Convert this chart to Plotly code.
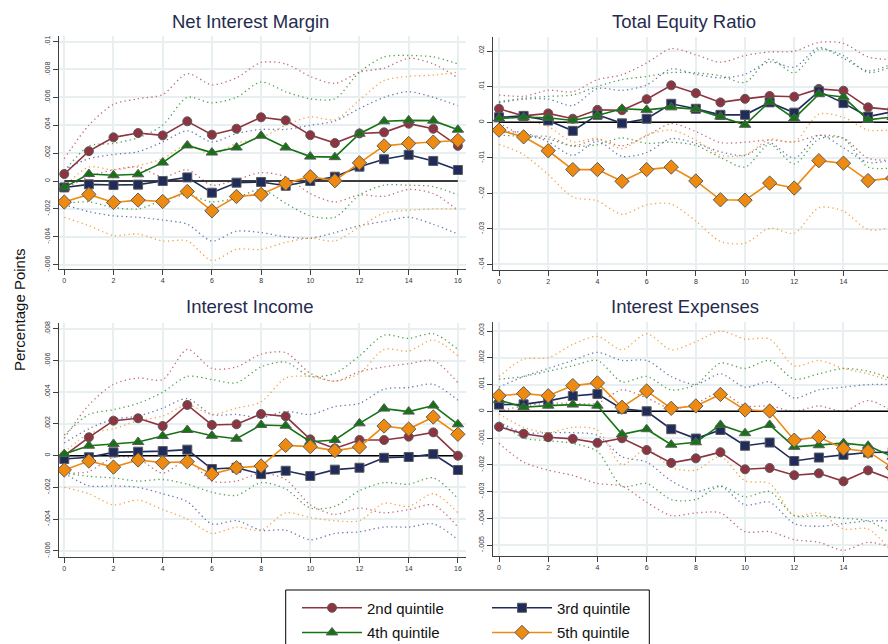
import plotly.graph_objects as go

horizon = list(range(17))
quintile_names = ["2nd quintile", "3rd quintile", "4th quintile", "5th quintile"]
panel_titles = ["Net Interest Margin", "Total Equity Ratio", "Interest Income", "Interest Expenses"]

x_tickvals = [0, 2, 4, 6, 8, 10, 12, 14, 16]
x_ticktext = ["0", "2", "4", "6", "8", "10", "12", "14", "16"]

nim_tickvals = [-0.006, -0.004, -0.002, 0, 0.002, 0.004, 0.006, 0.008, 0.01]
nim_ticktext = ["-.006", "-.004", "-.002", "0", ".002", ".004", ".006", ".008", ".01"]
ter_tickvals = [-0.04, -0.03, -0.02, -0.01, 0, 0.01, 0.02]
ter_ticktext = ["-.04", "-.03", "-.02", "-.01", "0", ".01", ".02"]
inc_tickvals = [-0.006, -0.004, -0.002, 0, 0.002, 0.004, 0.006, 0.008]
inc_ticktext = ["-.006", "-.004", "-.002", "0", ".002", ".004", ".006", ".008"]
exp_tickvals = [-0.005, -0.004, -0.003, -0.002, -0.001, 0, 0.001, 0.002, 0.003]
exp_ticktext = ["-.005", "-.004", "-.003", "-.002", "-.001", "0", ".001", ".002", ".003"]

# ---------------- Net Interest Margin ----------------
nim_q2 = [0.0005, 0.00214, 0.00313, 0.00344, 0.00327, 0.00428, 0.00332, 0.00375, 0.00457, 0.00435, 0.00329, 0.00272, 0.00341, 0.00349, 0.00411, 0.00375, 0.00252]
nim_q2_hi = [0.0016, 0.0040, 0.0055, 0.0059, 0.0062, 0.0077, 0.0069, 0.0074, 0.0085, 0.0084, 0.0075, 0.0070, 0.0078, 0.0081, 0.0088, 0.0084, 0.0074]
nim_q2_lo = [-0.0006, 0.0003, 0.0008, 0.0010, 0.0003, 0.0008, -0.0003, 0.0001, 0.0006, 0.0003, -0.0009, -0.0015, -0.0010, -0.0011, -0.0006, -0.0009, -0.0021]
nim_q3 = [-0.00046, -0.00024, -0.00029, -0.00026, 0.0, 0.00026, -0.00084, -0.00012, -0.00007, -0.00034, 0.0, 0.00031, 0.00103, 0.00156, 0.00188, 0.00144, 0.00079]
nim_q3_hi = [0.0008, 0.0016, 0.0019, 0.0021, 0.0028, 0.0036, 0.0028, 0.0034, 0.0037, 0.0037, 0.0040, 0.0043, 0.0052, 0.0060, 0.0064, 0.0060, 0.0054]
nim_q3_lo = [-0.0017, -0.0022, -0.0025, -0.0026, -0.0028, -0.0031, -0.0043, -0.0036, -0.0037, -0.0040, -0.0041, -0.0037, -0.0032, -0.0029, -0.0026, -0.0031, -0.0038]
nim_q4 = [-0.00046, 0.0005, 0.00041, 0.00048, 0.00132, 0.00255, 0.00204, 0.0024, 0.00325, 0.0024, 0.00175, 0.00171, 0.00339, 0.00428, 0.00435, 0.00433, 0.00368]
nim_q4_hi = [0.0007, 0.0025, 0.0027, 0.0031, 0.0040, 0.0060, 0.0056, 0.0060, 0.0071, 0.0064, 0.0059, 0.0059, 0.0078, 0.0089, 0.0090, 0.0089, 0.0084]
nim_q4_lo = [-0.0016, -0.0015, -0.0019, -0.0020, -0.0014, -0.0010, -0.0015, -0.0012, -0.0006, -0.0016, -0.0025, -0.0026, -0.0010, -0.0003, -0.0003, -0.0004, -0.0010]
nim_q5 = [-0.00151, -0.00096, -0.00154, -0.00137, -0.00147, -0.00075, -0.00214, -0.00111, -0.00096, -0.00017, 0.00031, 0.00002, 0.0013, 0.00252, 0.00269, 0.00279, 0.00291]
nim_q5_hi = [-0.0004, 0.0010, 0.0008, 0.0011, 0.0016, 0.0026, 0.0019, 0.0027, 0.0031, 0.0040, 0.0046, 0.0044, 0.0058, 0.0072, 0.0075, 0.0076, 0.0078]
nim_q5_lo = [-0.0026, -0.0032, -0.0039, -0.0038, -0.0043, -0.0043, -0.0057, -0.0049, -0.0049, -0.0044, -0.0041, -0.0043, -0.0033, -0.0023, -0.0021, -0.0020, -0.0020]

# ---------------- Total Equity Ratio ----------------
ter_q2 = [0.0038, 0.0018, 0.0025, 0.0010, 0.0035, 0.0034, 0.0065, 0.0104, 0.0082, 0.0056, 0.0066, 0.0074, 0.0072, 0.0094, 0.0089, 0.0042, 0.0035]
ter_q2_hi = [0.0077, 0.0073, 0.0090, 0.0086, 0.0120, 0.0134, 0.0167, 0.0207, 0.0190, 0.0169, 0.0188, 0.0198, 0.0200, 0.0225, 0.0222, 0.0184, 0.0176]
ter_q2_lo = [-0.0001, -0.0037, -0.0040, -0.0066, -0.0048, -0.0066, -0.0038, -0.0004, -0.0026, -0.0057, -0.0056, -0.0050, -0.0055, -0.0037, -0.0044, -0.0101, -0.0106]
ter_q3 = [0.0014, 0.0018, 0.0005, -0.0024, 0.0021, -0.0003, 0.0010, 0.0052, 0.0038, 0.0021, 0.0021, 0.0056, 0.0027, 0.0087, 0.0054, 0.0016, 0.0030]
ter_q3_hi = [0.0055, 0.0065, 0.0065, 0.0047, 0.0095, 0.0090, 0.0105, 0.0150, 0.0135, 0.0125, 0.0135, 0.0170, 0.0155, 0.0210, 0.0180, 0.0145, 0.0165]
ter_q3_lo = [-0.0027, -0.0029, -0.0055, -0.0093, -0.0053, -0.0096, -0.0085, -0.0046, -0.0059, -0.0083, -0.0093, -0.0058, -0.0101, -0.0036, -0.0072, -0.0113, -0.0105]
ter_q4 = [0.0011, 0.0014, 0.0013, 0.0005, 0.0019, 0.0038, 0.0035, 0.0042, 0.0037, 0.0016, -0.0007, 0.0058, 0.0011, 0.0079, 0.0071, 0.0007, 0.0015]
ter_q4_hi = [0.0058, 0.0068, 0.0073, 0.0077, 0.0101, 0.0120, 0.0129, 0.0140, 0.0139, 0.0131, 0.0112, 0.0178, 0.0139, 0.0205, 0.0188, 0.0140, 0.0158]
ter_q4_lo = [-0.0036, -0.0040, -0.0047, -0.0067, -0.0063, -0.0044, -0.0059, -0.0056, -0.0065, -0.0099, -0.0126, -0.0062, -0.0117, -0.0047, -0.0046, -0.0126, -0.0128]
ter_q5 = [-0.0022, -0.0041, -0.0080, -0.0133, -0.0133, -0.0166, -0.0133, -0.0126, -0.0165, -0.0218, -0.0219, -0.0171, -0.0185, -0.0108, -0.0115, -0.0164, -0.0157]
ter_q5_hi = [0.0018, 0.0007, -0.0012, -0.0055, -0.0045, -0.0074, -0.0036, -0.0022, -0.0050, -0.0092, -0.0092, -0.0048, -0.0055, 0.0023, 0.0014, -0.0022, -0.0020]
ter_q5_lo = [-0.0062, -0.0091, -0.0147, -0.0210, -0.0221, -0.0259, -0.0232, -0.0230, -0.0278, -0.0335, -0.0340, -0.0298, -0.0312, -0.0240, -0.0250, -0.0302, -0.0296]

# ---------------- Interest Income ----------------
inc_q2 = [0.0, 0.00116, 0.00221, 0.00236, 0.00187, 0.0032, 0.00194, 0.00198, 0.00263, 0.00248, 0.00103, 0.00046, 0.00099, 0.00099, 0.0012, 0.00147, 0.0]
inc_q2_hi = [0.0011, 0.0032, 0.0045, 0.0049, 0.0048, 0.0067, 0.0055, 0.0056, 0.0064, 0.0065, 0.0052, 0.0047, 0.0053, 0.0056, 0.0058, 0.0060, 0.0046]
inc_q2_lo = [-0.0011, -0.0010, -0.0001, -0.0002, -0.0011, -0.0003, -0.0016, -0.0016, -0.0011, -0.0015, -0.0031, -0.0037, -0.0033, -0.0036, -0.0034, -0.0031, -0.0045]
inc_q3 = [-0.00021, -0.0001, 0.00021, 0.00025, 0.00029, 0.00038, -0.00084, -0.00076, -0.00116, -0.00095, -0.00128, -0.00088, -0.00076, -0.00013, -0.00008, 0.0001, -0.0009]
inc_q3_hi = [0.0008, 0.0017, 0.0023, 0.0025, 0.0030, 0.0036, 0.0026, 0.0026, 0.0024, 0.0028, 0.0026, 0.0031, 0.0033, 0.0042, 0.0043, 0.0045, 0.0035]
inc_q3_lo = [-0.0011, -0.0019, -0.0019, -0.0020, -0.0024, -0.0029, -0.0043, -0.0041, -0.0047, -0.0047, -0.0053, -0.0049, -0.0048, -0.0045, -0.0045, -0.0043, -0.0053]
inc_q4 = [0.0001, 0.00063, 0.00074, 0.00086, 0.00124, 0.00162, 0.00126, 0.00107, 0.00194, 0.00189, 0.00088, 0.00099, 0.00204, 0.00297, 0.00278, 0.00316, 0.00198]
inc_q4_hi = [0.0013, 0.0026, 0.0029, 0.0033, 0.0040, 0.0050, 0.0048, 0.0046, 0.0056, 0.0059, 0.0050, 0.0052, 0.0063, 0.0076, 0.0074, 0.0077, 0.0067]
inc_q4_lo = [-0.0011, -0.0013, -0.0014, -0.0016, -0.0015, -0.0018, -0.0023, -0.0025, -0.0017, -0.0021, -0.0033, -0.0032, -0.0022, -0.0017, -0.0018, -0.0014, -0.0027]
inc_q5 = [-0.0009, -0.00034, -0.00072, -0.00027, -0.00044, -0.00038, -0.00116, -0.00076, -0.00065, 0.00065, 0.00057, 0.00032, 0.00055, 0.00187, 0.00168, 0.00244, 0.00135]
inc_q5_hi = [0.0002, 0.0014, 0.0017, 0.0022, 0.0025, 0.0032, 0.0026, 0.0030, 0.0034, 0.0049, 0.0050, 0.0047, 0.0052, 0.0067, 0.0066, 0.0073, 0.0063]
inc_q5_lo = [-0.0020, -0.0024, -0.0031, -0.0028, -0.0034, -0.0040, -0.0049, -0.0045, -0.0047, -0.0036, -0.0039, -0.0041, -0.0041, -0.0030, -0.0032, -0.0024, -0.0036]

# ---------------- Interest Expenses ----------------
exp_q2 = [-0.00058, -0.00084, -0.00097, -0.00103, -0.00118, -0.00101, -0.00145, -0.00193, -0.00176, -0.00153, -0.00217, -0.00212, -0.00239, -0.00232, -0.00262, -0.00221, -0.00256]
exp_q2_hi = [0.0000, 0.0002, 0.0003, 0.0003, 0.0003, 0.0008, 0.0005, 0.0001, 0.0003, 0.0007, 0.0002, 0.0002, 0.0000, 0.0002, 0.0000, 0.0004, 0.0000]
exp_q2_lo = [-0.0012, -0.0019, -0.0022, -0.0024, -0.0027, -0.0028, -0.0034, -0.0039, -0.0038, -0.0038, -0.0045, -0.0045, -0.0048, -0.0049, -0.0052, -0.0049, -0.0051]
exp_q3 = [0.00025, 0.00026, 0.00039, 0.00057, 0.00065, 0.00009, 0.0, -0.00067, -0.00102, -0.0007, -0.00129, -0.00117, -0.00186, -0.00173, -0.00163, -0.00154, -0.00153]
exp_q3_hi = [0.0009, 0.0013, 0.0016, 0.0019, 0.0022, 0.0019, 0.0019, 0.0013, 0.0010, 0.0014, 0.0009, 0.0011, 0.0005, 0.0008, 0.0009, 0.0010, 0.0010]
exp_q3_lo = [-0.0004, -0.0008, -0.0008, -0.0008, -0.0009, -0.0017, -0.0019, -0.0026, -0.0030, -0.0028, -0.0035, -0.0034, -0.0042, -0.0043, -0.0042, -0.0041, -0.0041]
exp_q4 = [0.00042, 0.00015, 0.00021, 0.00025, 0.00021, -0.00086, -0.00067, -0.00125, -0.00116, -0.00051, -0.00082, -0.00051, -0.00133, -0.00127, -0.00119, -0.00129, -0.0017]
exp_q4_hi = [0.0012, 0.0013, 0.0015, 0.0017, 0.0019, 0.0011, 0.0013, 0.0008, 0.0010, 0.0018, 0.0016, 0.0019, 0.0012, 0.0014, 0.0016, 0.0015, 0.0012]
exp_q4_lo = [-0.0004, -0.0010, -0.0011, -0.0012, -0.0015, -0.0028, -0.0027, -0.0033, -0.0033, -0.0028, -0.0032, -0.0030, -0.0039, -0.0039, -0.0040, -0.0041, -0.0046]
exp_q5 = [0.00058, 0.00066, 0.00058, 0.00096, 0.00106, 0.00015, 0.00076, 0.00011, 0.0002, 0.00063, 0.00005, 0.00001, -0.00108, -0.00096, -0.0014, -0.0015, -0.00211]
exp_q5_hi = [0.0013, 0.00195, 0.0020, 0.0025, 0.0028, 0.0023, 0.0029, 0.0023, 0.0026, 0.0030, 0.0027, 0.0027, 0.0017, 0.0019, 0.0016, 0.0014, 0.0011]
exp_q5_lo = [-0.0001, -0.0006, -0.0008, -0.0006, -0.0007, -0.0020, -0.0014, -0.0021, -0.0022, -0.0017, -0.0026, -0.0027, -0.0039, -0.0038, -0.0044, -0.0044, -0.0053]

# ---------------- styling ----------------
W, H = 888, 644
line_colors = ["#8e3340", "#1f2b5b", "#137413", "#ef8a10"]
ci_colors = ["#c06a78", "#6776ad", "#4fa04f", "#f2a448"]
symbols = ["circle", "square", "triangle-up", "diamond"]
msizes = [9, 9, 10, 11]
FONT = "Liberation Sans, Arial, Helvetica, sans-serif"

panels = [
    dict(title=panel_titles[0], series=[(nim_q2, nim_q2_lo, nim_q2_hi), (nim_q3, nim_q3_lo, nim_q3_hi), (nim_q4, nim_q4_lo, nim_q4_hi), (nim_q5, nim_q5_lo, nim_q5_hi)],
         tv=nim_tickvals, tt=nim_ticktext, yr=[-0.00631, 0.01042], px=(59, 466), py=(35.7, 269.0), xr=[-0.215, 16.33], tx=250.3, ty=21),
    dict(title=panel_titles[1], series=[(ter_q2, ter_q2_lo, ter_q2_hi), (ter_q3, ter_q3_lo, ter_q3_hi), (ter_q4, ter_q4_lo, ter_q4_hi), (ter_q5, ter_q5_lo, ter_q5_hi)],
         tv=ter_tickvals, tt=ter_ticktext, yr=[-0.04155, 0.02408], px=(492.7, 888), py=(36.7, 270.0), xr=[-0.256, 15.81], tx=684.2, ty=21),
    dict(title=panel_titles[2], series=[(inc_q2, inc_q2_lo, inc_q2_hi), (inc_q3, inc_q3_lo, inc_q3_hi), (inc_q4, inc_q4_lo, inc_q4_hi), (inc_q5, inc_q5_lo, inc_q5_hi)],
         tv=inc_tickvals, tt=inc_ticktext, yr=[-0.00637, 0.00835], px=(59, 466), py=(323.3, 556.7), xr=[-0.215, 16.33], tx=250.3, ty=307),
    dict(title=panel_titles[3], series=[(exp_q2, exp_q2_lo, exp_q2_hi), (exp_q3, exp_q3_lo, exp_q3_hi), (exp_q4, exp_q4_lo, exp_q4_hi), (exp_q5, exp_q5_lo, exp_q5_hi)],
         tv=exp_tickvals, tt=exp_ticktext, yr=[-0.0054, 0.003327], px=(492.7, 888), py=(322.3, 555.7), xr=[-0.256, 15.81], tx=684.5, ty=307),
]

fig = go.Figure()
layout = dict(
    width=W, height=H,
    margin=dict(l=0, r=0, t=0, b=0, autoexpand=False),
    paper_bgcolor="white", plot_bgcolor="white",
    showlegend=True,
    font=dict(family=FONT, color="#222"),
)
annotations = []

for i, p in enumerate(panels):
    k = "" if i == 0 else str(i + 1)
    xa, ya = "x" + k, "y" + k
    # confidence bands (dotted)
    for j, (mid, lo, hi) in enumerate(p["series"]):
        for bound in (hi, lo):
            fig.add_trace(go.Scatter(
                x=horizon, y=bound, mode="lines", xaxis=xa, yaxis=ya,
                line=dict(color=ci_colors[j], width=1.3, dash="1.3px,3.2px", shape="spline", smoothing=0.8),
                showlegend=False, hoverinfo="skip"))
    # zero reference line
    fig.add_trace(go.Scatter(
        x=[horizon[0], horizon[-1]], y=[0, 0], mode="lines", xaxis=xa, yaxis=ya,
        line=dict(color="black", width=1.6), showlegend=False, hoverinfo="skip"))
    # point estimates
    for j, (mid, lo, hi) in enumerate(p["series"]):
        fig.add_trace(go.Scatter(
            x=horizon, y=mid, mode="lines+markers", xaxis=xa, yaxis=ya,
            name=quintile_names[j],
            legend="legend" if j < 2 else "legend2",
            line=dict(color=line_colors[j], width=1.6),
            marker=dict(symbol=symbols[j], size=msizes[j], color=line_colors[j],
                        line=dict(color="#5b5b5b", width=1)),
            showlegend=(i == 0)))

    common = dict(showline=True, linecolor="#404040", linewidth=1, ticks="outside", ticklen=5,
                  tickwidth=1, tickcolor="#404040", showgrid=True, gridcolor="#e7eff1", gridwidth=1.5,
                  zeroline=False, tickfont=dict(family=FONT, size=7, color="#333"), fixedrange=True)
    layout["xaxis" + k] = dict(common, domain=[p["px"][0] / W, p["px"][1] / W], anchor=ya,
                               range=p["xr"], tickvals=x_tickvals, ticktext=x_ticktext, tickangle=0)
    layout["yaxis" + k] = dict(common, domain=[1 - p["py"][1] / H, 1 - p["py"][0] / H], anchor=xa,
                               range=p["yr"], tickvals=p["tv"], ticktext=p["tt"], tickangle=-90)
    annotations.append(dict(text=p["title"], x=p["tx"] / W, y=1 - p["ty"] / H, xref="paper", yref="paper",
                            xanchor="center", yanchor="middle", showarrow=False,
                            font=dict(family=FONT, size=18.5, color="#1f2c4f")))

annotations.append(dict(text="Percentage Points", x=19 / W, y=1 - 310 / H, xref="paper", yref="paper",
                        xanchor="center", yanchor="middle", textangle=-90, showarrow=False,
                        font=dict(family=FONT, size=15, color="#111")))
layout["annotations"] = annotations

legend_common = dict(orientation="h", xanchor="left", yanchor="middle", bgcolor="rgba(0,0,0,0)",
                     borderwidth=0, font=dict(family=FONT, size=15, color="#111"),
                     itemwidth=60, entrywidth=115, entrywidthmode="pixels")
layout["legend"] = dict(legend_common, x=297 / W, y=1 - 608 / H)
layout["legend2"] = dict(legend_common, x=297 / W, y=1 - 632.7 / H)
layout["shapes"] = [dict(type="rect", xref="paper", yref="paper", x0=285.7 / W, x1=649.3 / W,
                         y0=-0.06, y1=1 - 590 / H, line=dict(color="black", width=1), fillcolor="rgba(0,0,0,0)")]

fig.update_layout(**layout)
fig.write_html("out.html",
               config={"displayModeBar": False},
               post_script="document.body.style.margin='0px';document.body.style.overflow='hidden';")
